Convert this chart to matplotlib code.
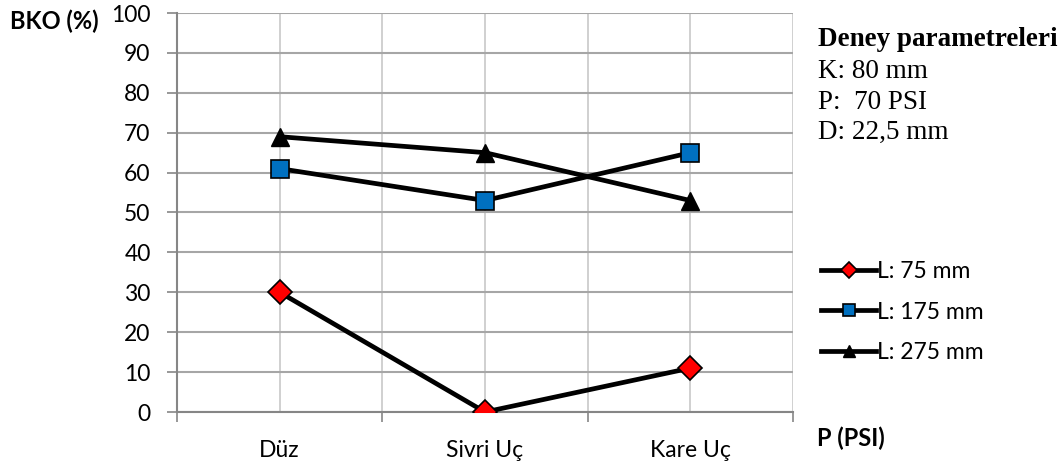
import matplotlib
matplotlib.use("Agg")
import matplotlib.pyplot as plt
from matplotlib.ticker import FixedLocator, NullFormatter, FixedFormatter

# data
categories = ["Düz", "Sivri Uç", "Kare Uç"]
l75 = [30, 0, 11]
l175 = [61, 53, 65]
l275 = [69, 65, 53]
series_labels = ["L: 75 mm", "L: 175 mm", "L: 275 mm"]
y_ticks = list(range(0, 101, 10))
param_lines = ["K: 80 mm", "P:  70 PSI", "D: 22,5 mm"]

SANS = "Lato"
SERIF = "Liberation Serif"
C_AXIS = "#868686"
C_HGRID = "#a6a6a6"
C_VGRID = "#c8c8c8"

fig = plt.figure(figsize=(10.62, 4.69), dpi=100)
ax = fig.add_axes([177 / 1062, 1 - 412 / 469, (793 - 177) / 1062, (412 - 13) / 469])

x = [1, 2, 3]
ax.plot(x, l75, color="black", lw=3.4, marker="D", ms=12,
        mfc="#ff0000", mec="black", mew=1.2, label=series_labels[0], zorder=3)
ax.plot(x, l175, color="black", lw=3.4, marker="s", ms=13,
        mfc="#0070c0", mec="black", mew=1.2, label=series_labels[1], zorder=3)
ax.plot(x, l275, color="black", lw=3.4, marker="^", ms=13,
        mfc="black", mec="black", mew=1.0, label=series_labels[2], zorder=3)

ax.set_xlim(0.5, 3.5)
ax.set_ylim(0, 100)

# ticks: marks at category boundaries, labels at centres
ax.xaxis.set_major_locator(FixedLocator([0.5, 1.5, 2.5, 3.5]))
ax.xaxis.set_major_formatter(NullFormatter())
ax.xaxis.set_minor_locator(FixedLocator(x))
ax.xaxis.set_minor_formatter(FixedFormatter(categories))
ax.tick_params(axis="x", which="major", length=7, width=1.2, color=C_AXIS)
ax.tick_params(axis="x", which="minor", length=0, pad=20,
               labelsize=16.5, labelcolor="black")
ax.set_yticks(y_ticks)
ax.tick_params(axis="y", length=7, width=1.2, color=C_AXIS,
               labelsize=16.5, pad=12)
for lab in ax.get_xticklabels(minor=True) + ax.get_yticklabels():
    lab.set_fontfamily(SANS)

ax.grid(True, axis="y", color=C_HGRID, lw=1.5)
ax.grid(True, axis="x", which="both", color=C_VGRID, lw=1.2)
ax.set_axisbelow(True)
for side in ("top", "right"):
    ax.spines[side].set_visible(False)
for side in ("left", "bottom"):
    ax.spines[side].set_color(C_AXIS)
    ax.spines[side].set_linewidth(1.5)

fig.text(10 / 1062, 1 - 21 / 469, "BKO (%)", fontsize=17, fontweight="bold",
         family=SANS, va="center", ha="left")
fig.text(817 / 1062, 1 - 438 / 469, "P (PSI)", fontsize=17, fontweight="bold",
         family=SANS, va="center", ha="left")

fig.text(818 / 1062, 1 - 40 / 469, "Deney parametreleri", fontsize=19.5,
         fontweight="bold", family=SERIF, va="center", ha="left")
for i, line in enumerate(param_lines):
    fig.text(818 / 1062, 1 - (72 + 30 * i) / 469, line, fontsize=19.5,
             family=SERIF, va="center", ha="left")

leg = ax.legend(loc="center left", bbox_to_anchor=(821 / 1062, 1 - 312 / 469),
                bbox_transform=fig.transFigure, frameon=False,
                handlelength=2.4, handletextpad=0.05, labelspacing=0.85,
                borderaxespad=0, borderpad=0, markerscale=0.7,
                prop={"family": SANS, "size": 16.5})

fig.savefig("out.png", dpi=100, facecolor="white")
